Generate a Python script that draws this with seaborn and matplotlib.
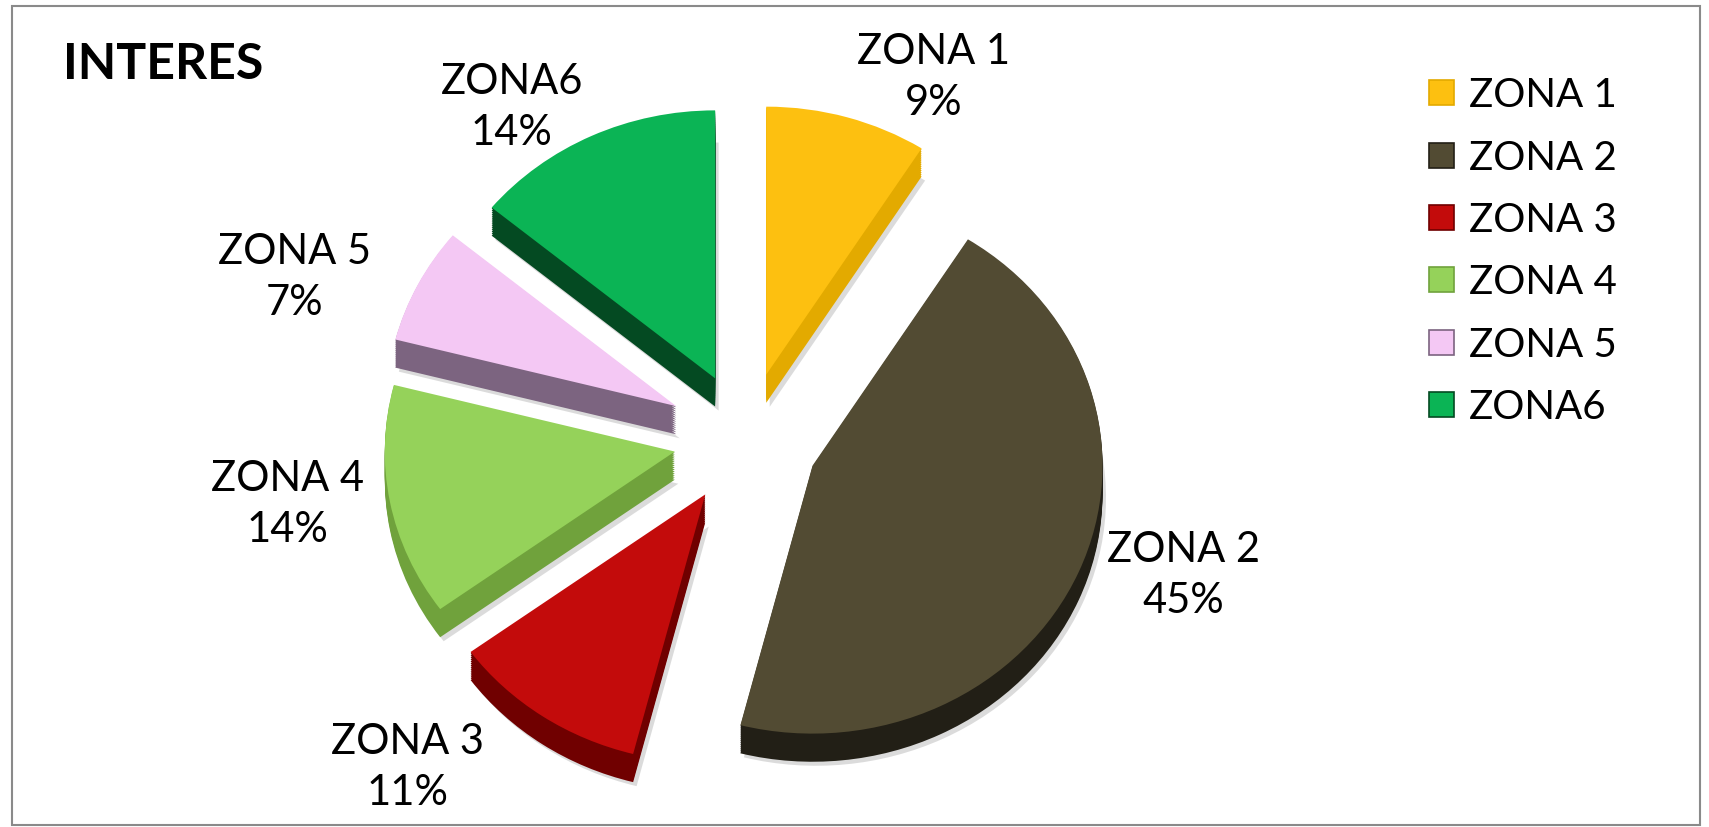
import matplotlib
matplotlib.use("Agg")
import numpy as np
import matplotlib.pyplot as plt
import seaborn as sns
from matplotlib.lines import Line2D
from matplotlib.patches import Rectangle

# datos del grafico
zonas = ["ZONA 1", "ZONA 2", "ZONA 3", "ZONA 4", "ZONA 5", "ZONA6"]
porcentajes = [9, 45, 11, 14, 7, 14]

# colores: cara superior y lateral de cada porcion
colores = ["#FDC010", "#524B33", "#C30B0B", "#95D25A", "#F4C8F4", "#0BB455"]
colores_lado = ["#E3AA00", "#221F16", "#700000", "#70A23C", "#7C6480", "#044A22"]
separacion = [0.25, 0.25, 0.25, 0.25, 0.27, 0.25]

# ajuste de etiquetas: distancia al centro y giro en grados
etiqueta_dist = [1.50, 1.59, 1.69, 1.60, 1.67, 1.48]
etiqueta_giro = [-9.4, 4.9, -9.5, -2.2, 5.7, 7.9]

sns.set_theme(style="white")
plt.rcParams["font.family"] = ["Lato", "DejaVu Sans"]
plt.rcParams["text.color"] = "black"

fig = plt.figure(figsize=(17.09, 8.28), dpi=100)
ax = fig.add_axes([0, 0, 1, 1])

# sombra y lateral (efecto 3D) con pies desplazados hacia abajo
profundidad = 0.105
ax.pie(porcentajes, explode=separacion, colors=["#c4c4c4"] * len(zonas),
       startangle=90, counterclock=False, center=(0.012, -profundidad - 0.015),
       wedgeprops=dict(linewidth=0, alpha=0.6))
for k in np.linspace(profundidad, 0.004, 14):
    ax.pie(porcentajes, explode=separacion, colors=colores_lado,
           startangle=90, counterclock=False, center=(0, -k),
           wedgeprops=dict(linewidth=0))

wedges, _ = ax.pie(porcentajes, explode=separacion, colors=colores,
                   startangle=90, counterclock=False,
                   wedgeprops=dict(linewidth=0))

# etiquetas con nombre y porcentaje
for w, nombre, valor, d, g in zip(wedges, zonas, porcentajes, etiqueta_dist, etiqueta_giro):
    ang = np.deg2rad((w.theta1 + w.theta2) / 2 + g)
    ax.text(d * np.cos(ang), d * np.sin(ang), f"{nombre}\n{valor}%",
            ha="center", va="center", fontsize=30, color="black",
            linespacing=1.42)

ax.set_aspect("auto")
ax.set_xlim(-746 / 290, 963 / 290)
ax.set_ylim(-388 / 268, 440 / 268)
ax.axis("off")

# leyenda
handles = [Line2D([0], [0], marker="s", linestyle="none", markersize=18,
                  markerfacecolor=c, markeredgecolor=cl, markeredgewidth=1.2)
           for c, cl in zip(colores, colores_lado)]
fig.legend(handles, zonas, loc="upper left", bbox_to_anchor=(1390 / 1709, 1 - 41 / 828),
           frameon=False, fontsize=29, handlelength=0.75, handletextpad=0.3,
           labelspacing=0.63)

fig.text(63 / 1709, 1 - 79 / 828, "INTERES", fontsize=36, fontweight="bold",
         va="baseline", ha="left", color="black")

# marco del grafico
fig.patches.append(Rectangle((12 / 1709, 2 / 828), (1700 - 12) / 1709, (821 - 2) / 828,
                             transform=fig.transFigure, fill=False,
                             edgecolor="#8a8a8a", linewidth=1.5))

fig.savefig("out.png", dpi=100)
plt.close()
